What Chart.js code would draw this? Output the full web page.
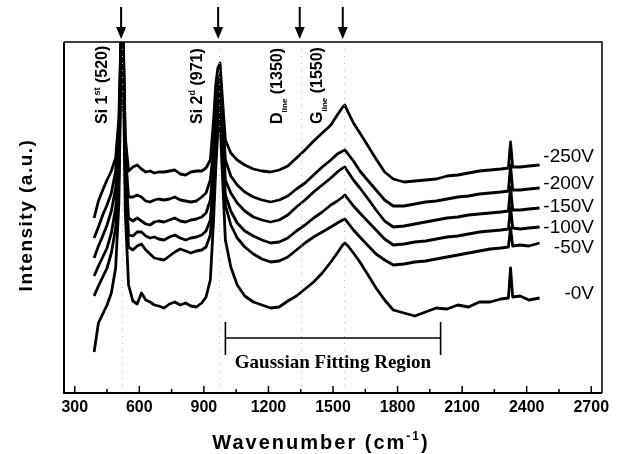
<!DOCTYPE html>
<html>
<head>
<meta charset="utf-8">
<script src="https://cdn.jsdelivr.net/npm/chart.js@4/dist/chart.umd.min.js"></script>
<style>
html, body { margin: 0; padding: 0; background: #fff; }
#wrap { width: 624px; height: 454px; }
</style>
</head>
<body>
<div id="wrap"><canvas id="raman" width="624" height="454"></canvas></div>
<script>
// Raman shift (cm^-1) sampling points shared by all spectra
const wavenumbers = [390,410,430,450,470,490,505,515,520,525,535,550,570,590,610,630,650,670,690,715,
  740,765,790,815,840,865,890,910,930,945,955,965,975,985,1000,1025,1055,1090,1130,1170,
  1210,1250,1290,1330,1370,1410,1450,1490,1520,1545,1555,1570,1595,1625,1660,1700,1740,1780,1830,1880,
  1930,1980,2030,2080,2130,2180,2230,2280,2315,2325,2335,2370,2410,2460];

// Intensity (a.u., vertically offset per substrate bias)
const bias0V = [41,70,79,88,100,125,190,330,373,330,180,108,92,89,100,93,91,88,87,85,
  89,91,88,90,87,86,90,96,113,173,223,263,275,223,153,126,108,97,91,88,
  85,86,92,97,104,111,120,131,140,148,150,147,140,131,119,105,93,83,80,77,
  81,85,84,88,86,91,91,94,95,125,96,97,93,95];
const bias50V = [97,107,116,125,140,165,215,340,373,340,210,146,143,147,149,143,139,135,134,133,
  137,141,144,142,140,142,143,146,158,203,243,278,288,243,188,168,155,146,139,134,
  131,132,136,143,150,156,161,166,170,173,174,170,163,156,148,139,133,128,129,131,
  132,134,136,138,140,142,144,145,146,165,147,148,147,150];
const bias100V = [117,127,136,145,160,185,230,345,373,345,220,158,157,161,161,157,155,156,154,153,
  156,158,155,153,155,156,158,162,173,213,253,288,298,253,198,182,170,162,157,153,
  150,151,155,162,168,175,181,188,192,196,198,194,187,180,172,163,154,148,149,151,
  152,154,156,157,159,161,162,163,164,186,165,164,165,166];
const bias150V = [135,147,157,168,182,205,245,350,373,350,230,175,172,175,172,169,168,171,172,171,
  173,175,172,171,173,174,176,180,193,228,268,298,308,268,213,200,190,182,176,173,
  171,173,178,186,193,201,208,215,221,225,226,221,213,205,195,183,172,166,167,169,
  171,173,175,176,178,179,180,181,182,206,183,183,184,185];
const bias200V = [155,166,178,188,200,222,260,355,373,355,240,196,196,198,196,192,191,193,194,193,
  194,196,193,192,191,192,196,200,213,243,283,308,318,283,233,217,208,201,196,193,
  191,193,197,204,210,218,226,233,239,242,243,239,232,222,213,203,193,187,187,189,
  191,192,194,196,197,199,200,201,202,228,203,203,204,205];
const bias250V = [175,192,203,213,222,235,275,360,373,360,255,222,226,228,224,221,222,220,221,221,
  222,223,219,218,221,222,222,225,233,273,308,325,330,298,253,240,233,228,224,222,
  221,223,227,235,243,252,260,268,278,286,288,281,270,260,248,234,221,214,211,212,
  213,214,217,218,220,222,223,224,225,251,226,226,227,228];

const spectra = [bias0V, bias50V, bias100V, bias150V, bias200V, bias250V];
const biasLabels = ['-0V', '-50V', '-100V', '-150V', '-200V', '-250V'];

// Axis ticks
const majorTicks = [300, 600, 900, 1200, 1500, 1800, 2100, 2400, 2700];
const minorTicks = [450, 750, 1050, 1350, 1650, 1950, 2250, 2550];

// Marked Raman lines and the fitting window
const peakMarks = [520, 971, 1350, 1550];
const fitRegion = [1000, 2000];

const SANS = "'Liberation Sans', Arial, Helvetica, sans-serif";
const SERIF = "'Liberation Serif', 'Times New Roman', serif";

function drawRich(ctx, parts, x, y) {
  // parts: [text, fontSize, baselineShift]
  let cx = x;
  for (const [t, size, shift] of parts) {
    ctx.font = `bold ${size}px ${SANS}`;
    ctx.fillText(t, cx, y + shift);
    cx += ctx.measureText(t).width;
  }
}

const peakText = [
  [['Si 1', 16, 0], ['st', 9, -7], [' (520)', 16, 0]],
  [['Si 2', 16, 0], ['d', 9, -7], [' (971)', 16, 0]],
  [['D', 16, 0], ['line', 8, 5], [' (1350)', 16, 0]],
  [['G', 16, 0], ['line', 8, 5], [' (1550)', 16, 0]]
];
const peakTextShift = [-15, -17, -19, -22];
const biasLabelNudge = [-4, 5, 1, -1, -4, -8];

const annotate = {
  id: 'annotate',
  afterDatasetsDraw(chart) {
    const { ctx, chartArea: a, scales: { x, y } } = chart;
    ctx.save();

    // faint dotted guides at the marked lines
    ctx.strokeStyle = '#b5b5b5';
    ctx.lineWidth = 1;
    ctx.setLineDash([1, 6]);
    for (const v of peakMarks) {
      const px = Math.round(x.getPixelForValue(v)) + 0.5;
      ctx.beginPath(); ctx.moveTo(px, a.top); ctx.lineTo(px, a.bottom); ctx.stroke();
    }
    ctx.setLineDash([]);

    // frame
    ctx.strokeStyle = '#000';
    ctx.lineWidth = 2;
    ctx.beginPath();
    ctx.moveTo(a.left, a.top); ctx.lineTo(a.left, a.bottom); ctx.lineTo(a.right, a.bottom);
    ctx.stroke();
    ctx.lineWidth = 1.5;
    ctx.beginPath();
    ctx.moveTo(a.left, a.top); ctx.lineTo(a.right, a.top); ctx.lineTo(a.right, a.bottom);
    ctx.stroke();

    // inward tick marks on the x axis
    ctx.lineWidth = 1.5;
    for (const v of majorTicks) {
      const px = x.getPixelForValue(v);
      ctx.beginPath(); ctx.moveTo(px, a.bottom); ctx.lineTo(px, a.bottom - 7); ctx.stroke();
    }
    for (const v of minorTicks) {
      const px = x.getPixelForValue(v);
      ctx.beginPath(); ctx.moveTo(px, a.bottom); ctx.lineTo(px, a.bottom - 4); ctx.stroke();
    }

    // arrows above the frame
    ctx.fillStyle = '#000';
    ctx.lineWidth = 2;
    for (const v of peakMarks) {
      const px = x.getPixelForValue(v) - 1;
      ctx.beginPath(); ctx.moveTo(px, 7); ctx.lineTo(px, 30); ctx.stroke();
      ctx.beginPath();
      ctx.moveTo(px - 5, 27); ctx.lineTo(px + 5, 27); ctx.lineTo(px, 39); ctx.closePath();
      ctx.fill();
    }

    // rotated peak labels
    ctx.textAlign = 'left';
    ctx.textBaseline = 'alphabetic';
    peakMarks.forEach((v, i) => {
      const px = x.getPixelForValue(v) + peakTextShift[i];
      ctx.save();
      ctx.translate(px, 124);
      ctx.rotate(-Math.PI / 2);
      drawRich(ctx, peakText[i], 0, 0);
      ctx.restore();
    });

    // bias voltage labels at the right end of each spectrum
    ctx.font = `19px ${SANS}`;
    ctx.textAlign = 'right';
    ctx.textBaseline = 'middle';
    spectra.forEach((s, i) => {
      const py = y.getPixelForValue(s[s.length - 1]) + biasLabelNudge[i];
      ctx.fillText(biasLabels[i], 594, py);
    });

    // Gaussian fitting window bracket
    const x0 = x.getPixelForValue(fitRegion[0]);
    const x1 = x.getPixelForValue(fitRegion[1]);
    ctx.lineWidth = 1.6;
    ctx.beginPath();
    ctx.moveTo(x0, 338); ctx.lineTo(x1, 338);
    ctx.moveTo(x0, 322); ctx.lineTo(x0, 355);
    ctx.moveTo(x1, 322); ctx.lineTo(x1, 355);
    ctx.stroke();
    ctx.font = `bold 19px ${SERIF}`;
    ctx.textAlign = 'center';
    ctx.textBaseline = 'alphabetic';
    ctx.fillText('Gaussian Fitting Region', (x0 + x1) / 2, 368);

    // axis titles
    ctx.textAlign = 'left';
    if ('letterSpacing' in ctx) ctx.letterSpacing = '2px';
    const title = [['Wavenumber (cm', 20, 0], ['-1', 12, -9], [')', 20, 0]];
    let w = 0;
    for (const [t, s] of title) { ctx.font = `bold ${s}px ${SANS}`; w += ctx.measureText(t).width; }
    drawRich(ctx, title, 321 - w / 2, 449);

    if ('letterSpacing' in ctx) ctx.letterSpacing = '1.5px';
    ctx.save();
    ctx.translate(32, 215);
    ctx.rotate(-Math.PI / 2);
    ctx.font = `bold 19px ${SANS}`;
    ctx.textAlign = 'center';
    ctx.fillText('Intensity (a.u.)', 0, 0);
    ctx.restore();

    ctx.restore();
  }
};

new Chart(document.getElementById('raman'), {
  type: 'line',
  data: {
    datasets: spectra.map((s, i) => ({
      label: biasLabels[i],
      data: wavenumbers.map((w, k) => ({ x: w, y: s[k] })),
      borderColor: '#000',
      borderWidth: 2.8,
      borderJoinStyle: 'round',
      pointRadius: 0,
      tension: 0,
      fill: false
    }))
  },
  options: {
    responsive: false,
    animation: false,
    devicePixelRatio: 1,
    layout: { padding: { left: 64, top: 42, right: 22, bottom: 0 } },
    plugins: { legend: { display: false }, tooltip: { enabled: false } },
    scales: {
      x: {
        type: 'linear',
        min: 250,
        max: 2750,
        afterBuildTicks: (scale) => { scale.ticks = majorTicks.map(v => ({ value: v })); },
        afterFit: (scale) => { scale.height = 61; },
        grid: { display: false, drawTicks: false },
        border: { display: false },
        ticks: {
          autoSkip: false,
          maxRotation: 0,
          padding: 5,
          color: '#000',
          font: { family: SANS, size: 16, weight: 'bold' },
          callback: (v) => String(v)
        }
      },
      y: {
        display: false,
        min: 0,
        max: 351
      }
    }
  },
  plugins: [annotate]
});
</script>
</body>
</html>
